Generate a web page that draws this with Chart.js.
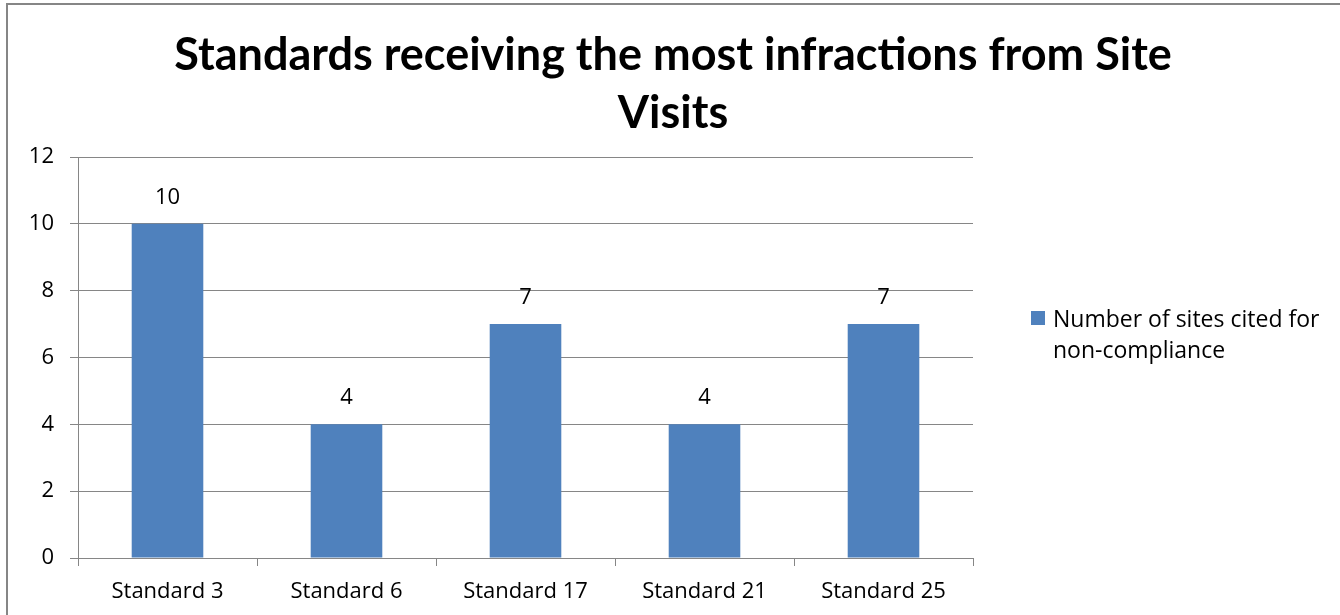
<!DOCTYPE html>
<html>
<head>
<meta charset="utf-8">
<title>Standards receiving the most infractions from Site Visits</title>
<script src="https://cdn.jsdelivr.net/npm/chart.js@4/dist/chart.umd.min.js"></script>
<style>
    html, body { margin: 0; padding: 0; background: #fff; }
    #wrap { position: relative; width: 1340px; height: 615px; }
</style>
</head>
<body>
<div id="wrap"><canvas id="infractionsChart"></canvas></div>
<script>
// chart data
const categories = ['Standard 3', 'Standard 6', 'Standard 17', 'Standard 21', 'Standard 25'];
const siteCounts = [10, 4, 7, 4, 7];
const yTickValues = [0, 2, 4, 6, 8, 10, 12];
const titleLines = ['Standards receiving the most infractions from Site', 'Visits'];
const seriesLabel = 'Number of sites cited for non-compliance';
const legendLines = ['Number of sites cited for', 'non-compliance'];

const BAR_COLOR = '#4F81BD';
const GRID_COLOR = '#868686';
const FONT = '"Open Sans"';
const TITLE_FONT = 'Lato';

// frame, title, value labels and the wrapped legend
const decorations = {
    id: 'decorations',
    beforeDraw(chart) {
        const ctx = chart.ctx;
        ctx.save();
        ctx.strokeStyle = GRID_COLOR;
        ctx.lineWidth = 2;
        ctx.beginPath();
        ctx.moveTo(7, chart.height);
        ctx.lineTo(7, 4);
        ctx.lineTo(chart.width, 4);
        ctx.stroke();
        ctx.restore();
    },
    afterDraw(chart) {
        const ctx = chart.ctx;
        ctx.save();
        ctx.fillStyle = '#000';

        // title
        ctx.font = 'bold 45px ' + TITLE_FONT;
        ctx.textAlign = 'center';
        ctx.textBaseline = 'alphabetic';
        titleLines.forEach(function(line, i) {
            ctx.fillText(line, 673, 70 + i * 58);
        });

        // values above bars
        ctx.font = '22px ' + FONT;
        const meta = chart.getDatasetMeta(0);
        meta.data.forEach(function(bar, i) {
            ctx.fillText(String(siteCounts[i]), bar.x, bar.y - 20);
        });

        // legend
        ctx.fillStyle = BAR_COLOR;
        ctx.fillRect(1031, 311, 14, 14);
        ctx.fillStyle = '#000';
        ctx.textAlign = 'left';
        ctx.font = '23px ' + FONT;
        legendLines.forEach(function(line, i) {
            ctx.fillText(line, 1053, 327 + i * 31);
        });
        ctx.restore();
    }
};

function initializeChart() {
    const canvas = document.getElementById('infractionsChart');
    if (!canvas) {
        console.error('Chart canvas not found');
        return;
    }

    return new Chart(canvas.getContext('2d'), {
        type: 'bar',
        data: {
            labels: categories,
            datasets: [{
                label: seriesLabel,
                data: siteCounts,
                backgroundColor: BAR_COLOR,
                borderWidth: 0,
                barPercentage: 0.4,
                categoryPercentage: 1.0
            }]
        },
        options: {
            responsive: true,
            maintainAspectRatio: false,
            animation: false,
            layout: {
                padding: { left: 0, right: 367, top: 157, bottom: 0 }
            },
            plugins: {
                legend: { display: false },
                title: { display: false },
                tooltip: { enabled: false }
            },
            scales: {
                x: {
                    grid: {
                        offset: true,
                        drawOnChartArea: false,
                        drawTicks: true,
                        tickLength: 8,
                        color: GRID_COLOR
                    },
                    border: { display: true, color: GRID_COLOR, width: 1 },
                    ticks: {
                        color: '#000',
                        padding: 13,
                        font: { family: FONT, size: 22 }
                    },
                    afterFit: function(scale) {
                        scale.height = 57;
                    }
                },
                y: {
                    min: 0,
                    max: 12,
                    afterBuildTicks: function(scale) {
                        scale.ticks = yTickValues.map(function(v) { return { value: v }; });
                    },
                    grid: {
                        color: GRID_COLOR,
                        tickLength: 8,
                        drawTicks: true
                    },
                    border: { display: true, color: GRID_COLOR, width: 1 },
                    ticks: {
                        color: '#000',
                        padding: 16,
                        font: { family: FONT, size: 22 }
                    },
                    afterFit: function(scale) {
                        scale.width = 78;
                    }
                }
            }
        },
        plugins: [decorations]
    });
}

document.addEventListener('DOMContentLoaded', function() {
    initializeChart();
});
</script>
</body>
</html>
